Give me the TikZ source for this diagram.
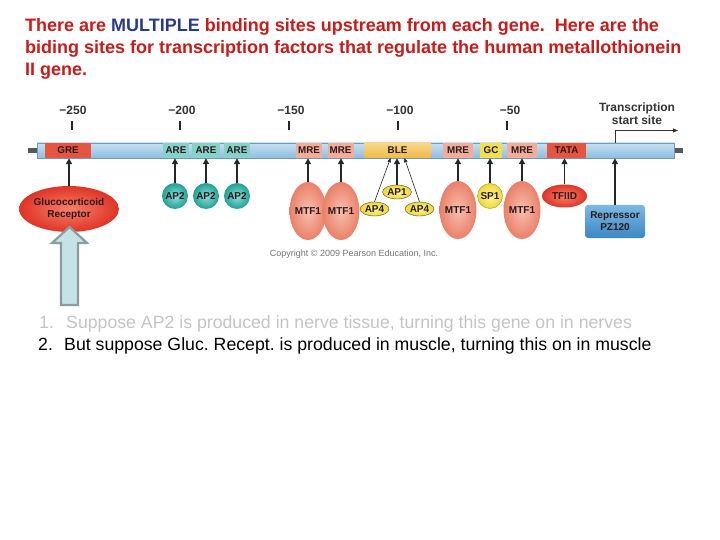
\documentclass[tikz,border=0pt]{standalone}
\usepackage{fontspec}
\setmainfont{Liberation Sans}
\usetikzlibrary{shapes.geometric,arrows.meta}
\frenchspacing
\definecolor{titlered}{HTML}{CC1A1A}
\definecolor{titleblue}{HTML}{2A3A8A}
\definecolor{bartop}{HTML}{C8E0F2}
\definecolor{barbot}{HTML}{8EBCE0}
\definecolor{barline}{HTML}{6A9CC4}
\definecolor{grecol}{HTML}{E5553F}
\definecolor{arecol}{HTML}{86D2C8}
\definecolor{ap2in}{HTML}{8FE0D6}
\definecolor{ap2out}{HTML}{1FA096}
\definecolor{mrecol}{HTML}{F2AC9A}
\definecolor{mtfin}{HTML}{F8C0B0}
\definecolor{mtfout}{HTML}{EA8068}
\definecolor{blecol}{HTML}{F0BA44}
\definecolor{yelin}{HTML}{FFF4A0}
\definecolor{yelout}{HTML}{EED830}
\definecolor{gccol}{HTML}{F0E050}
\definecolor{redin}{HTML}{F8806A}
\definecolor{redout}{HTML}{DE3426}
\definecolor{reptop}{HTML}{7CB8E4}
\definecolor{repbot}{HTML}{3A88C4}
\definecolor{bigfill}{HTML}{C5E3E6}
\definecolor{bigline}{HTML}{8A9C9E}
\definecolor{listgray}{HTML}{C4C4C4}
\definecolor{labtext}{HTML}{2A1A1A}
\newcommand\sitefont{\bfseries\fontsize{9.8}{10}\selectfont}
\newcommand\facfont{\bfseries\fontsize{10}{11}\selectfont}
\newcommand\listfont{\fontsize{17.7}{20}\selectfont}
\begin{document}
\begin{tikzpicture}[x=1pt,y=-1pt,
  site/.style={minimum height=15, inner sep=0, font=\sitefont, text=labtext},
  arr/.style={line width=1.6pt, draw=black!85, -{Triangle[length=6pt,width=6pt]}},
  thinarr/.style={line width=0.6pt, draw=black!85, -{Triangle[length=4pt,width=3.5pt]}},
  mtf/.style={ellipse, minimum width=31, minimum height=58, inner sep=0, inner color=mtfin, outer color=mtfout, font=\facfont, text=labtext},
  ap2/.style={circle, minimum size=26, inner sep=0, inner color=ap2in, outer color=ap2out, font=\facfont, text=labtext},
  yel/.style={ellipse, minimum width=29, minimum height=14, inner sep=0, draw=black!70, line width=0.4pt, inner color=yelin, outer color=yelout, font=\facfont, text=labtext},
  poslab/.style={font=\bfseries\fontsize{12}{13}\selectfont, text=black!80, inner sep=0},
  tickline/.style={line width=1.3pt, draw=black!85}
]
\useasboundingbox (0,0) rectangle (720,540);

% title
\node[anchor=north west, inner sep=0, align=left, text=titlered,
      font=\bfseries\fontsize{18}{22}\selectfont] (title) at (25,18)
 {There are \textcolor{titleblue}{MULTIPLE} binding sites upstream from each gene.\ \ Here are the\\
  biding sites for transcription factors that regulate the human metallothionein\\
  II gene.};

% position labels and ticks
\node[poslab] (p250) at (73,110) {−250};
\node[poslab] (p200) at (182,110) {−200};
\node[poslab] (p150) at (291,110) {−150};
\node[poslab] (p100) at (400,110) {−100};
\node[poslab] (p50) at (510,110) {−50};
\draw[tickline] (72,121) -- (72,130);
\draw[tickline] (180,121) -- (180,130);
\draw[tickline] (289,121) -- (289,130);
\draw[tickline] (398,121) -- (398,130);
\draw[tickline] (507,121) -- (507,130);

% DNA bar
\fill[black!65] (28,148.5) rectangle (37,153);
\fill[black!65] (674,148.5) rectangle (683,153);
\node[draw=barline, line width=0.5pt, top color=bartop, bottom color=barbot, minimum width=637, minimum height=15, inner sep=0] (bar) at (355.5,150.5) {};

% sites
\node[site, fill=grecol, minimum width=46] (gre) at (68,150.5) {GRE};
\node[site, fill=arecol, minimum width=26] (are1) at (176,150.5) {ARE};
\node[site, fill=arecol, minimum width=28] (are2) at (206,150.5) {ARE};
\node[site, fill=arecol, minimum width=26] (are3) at (237,150.5) {ARE};
\node[site, fill=mrecol, minimum width=26] (mre1) at (309,150.5) {MRE};
\node[site, fill=mrecol, minimum width=26] (mre2) at (340.5,150.5) {MRE};
\node[site, top color=blecol!60!white, bottom color=blecol, minimum width=67] (ble) at (397.5,150.5) {BLE};
\node[site, fill=mrecol, minimum width=30] (mre3) at (458,150.5) {MRE};
\node[site, fill=gccol, minimum width=22] (gc) at (491,150.5) {GC};
\node[site, fill=mrecol, minimum width=30] (mre4) at (522,150.5) {MRE};
\node[site, fill=grecol, minimum width=39] (tata) at (566.5,150.5) {TATA};

% transcription start site
\node[align=center, inner sep=0, font=\bfseries\fontsize{12}{13.5}\selectfont, text=black!80] (tsslab) at (637,113.5) {Transcription\\start site};
\coordinate (tss) at (615,143);
\coordinate (tssend) at (678,130.5);
\draw[line width=0.9pt, draw=black!80, -{Triangle[length=5pt,width=4pt]}] (tss) |- (tssend);

% factors
\node[ellipse, minimum width=84, minimum height=46, inner sep=0, inner color=redin, outer color=redout, align=center, font=\bfseries\fontsize{10}{12}\selectfont, text=labtext] (gr) at (69,209) {Glucocorticoid\\Receptor};
\node[ap2] (ap2a) at (175,196) {AP2};
\node[ap2] (ap2b) at (206,196) {AP2};
\node[ap2] (ap2c) at (237,196) {AP2};
\node[mtf] (mtf1) at (308,211) {MTF1};
\node[mtf] (mtf2) at (341,211) {MTF1};
\node[yel] (ap1) at (397,192) {AP1};
\node[yel] (ap4a) at (374.5,209) {AP4};
\node[yel] (ap4b) at (419.5,209) {AP4};
\node[mtf] (mtf3) at (458,210) {MTF1};
\node[circle, minimum size=25, inner sep=0, draw=yelout!70!black, line width=0.4pt, inner color=yelin, outer color=yelout, font=\facfont, text=labtext] (sp1) at (490,196) {SP1};
\node[mtf] (mtf4) at (522,210) {MTF1};
\node[ellipse, minimum width=45, minimum height=23, inner sep=0, inner color=redin, outer color=redout, font=\facfont, text=labtext] (tfiid) at (564.5,196) {TFIID};
\node[rounded corners=3pt, minimum width=60, minimum height=33, inner sep=0, top color=reptop, bottom color=repbot, align=center, font=\bfseries\fontsize{10}{12}\selectfont, text=labtext] (rep) at (615,221.5) {Repressor\\PZ120};

% arrows
\draw[arr] (gr.north) -- (gr.north |- bar.south);
\draw[arr] (ap2a) -- (ap2a |- bar.south);
\draw[arr] (ap2b) -- (ap2b |- bar.south);
\draw[arr] (ap2c) -- (ap2c |- bar.south);
\draw[arr] (mtf1) -- (mtf1 |- bar.south);
\draw[arr] (mtf2) -- (mtf2 |- bar.south);
\draw[arr] (ap1) -- (ap1 |- bar.south);
\draw[thinarr] (ap4a.north) -- ([xshift=-7]ble.south);
\draw[thinarr] (ap4b.north) -- ([xshift=7]ble.south);
\draw[arr] (mtf3) -- (mtf3 |- bar.south);
\draw[arr] (sp1) -- (sp1 |- bar.south);
\draw[arr] (mtf4) -- (mtf4 |- bar.south);
\draw[arr] (tfiid) -- (tfiid |- bar.south);
\draw[arr] (rep.north) -- (rep.north |- bar.south);

% copyright
\node[inner sep=0, font=\fontsize{9}{10}\selectfont, text=black!55] (copy) at (354,254) {Copyright © 2009 Pearson Education, Inc.};

% big hollow arrow
\draw[fill=bigfill, draw=bigline, line width=2.2pt, line join=miter]
  (61,305) -- (61,243) -- (52,243) -- (69.5,227) -- (87,243) -- (78,243) -- (78,305) -- cycle;

% list
\node[anchor=base west, inner sep=0, text=listgray, font=\listfont] (n1) at (39,328) {1.};
\node[anchor=base west, inner sep=0, text=listgray, font=\listfont] (l1) at (66,328) {Suppose AP2 is produced in nerve tissue, turning this gene on in nerves};
\node[anchor=base west, inner sep=0, text=black, font=\listfont] (n2) at (38,350) {2.};
\node[anchor=base west, inner sep=0, text=black, font=\listfont] (l2) at (64,350) {But suppose Gluc. Recept. is produced in muscle, turning this on in muscle};
\end{tikzpicture}
\end{document}
